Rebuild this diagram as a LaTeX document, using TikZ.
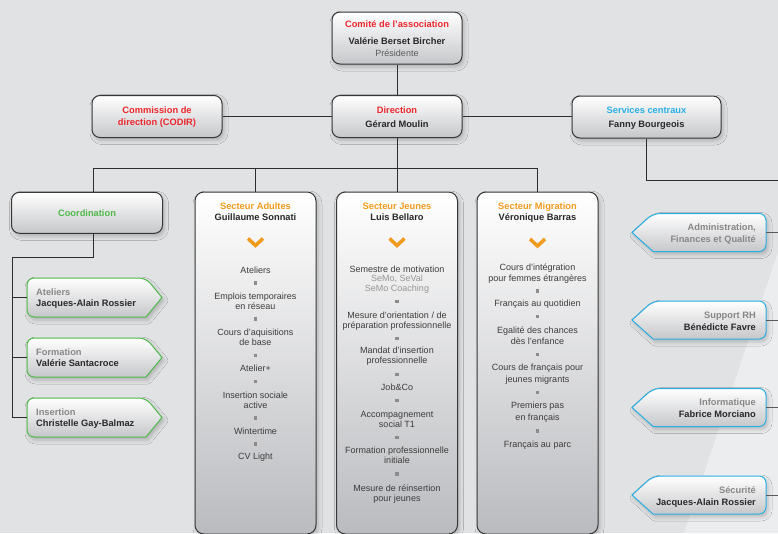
\documentclass[tikz,border=0pt]{standalone}
\usepackage{fontspec}
\setmainfont{Liberation Sans}
\usetikzlibrary{shadows.blur}
\definecolor{bg}{RGB}{225,226,228}
\definecolor{bglight}{RGB}{236,237,238}
\definecolor{redt}{RGB}{237,38,45}
\definecolor{orangt}{RGB}{240,155,30}
\definecolor{greent}{RGB}{80,185,75}
\definecolor{bluet}{RGB}{40,175,230}
\definecolor{darkt}{RGB}{40,40,40}
\definecolor{grayt}{RGB}{135,135,135}
\definecolor{grayp}{RGB}{90,90,90}
\definecolor{itemt}{RGB}{60,60,60}
\definecolor{lgt}{RGB}{150,150,150}
\definecolor{linec}{RGB}{45,45,45}
\definecolor{linegr}{RGB}{90,90,90}
\definecolor{boxb}{RGB}{55,55,55}
\definecolor{gbot}{RGB}{198,199,202}
\definecolor{cbot}{RGB}{186,187,191}
\definecolor{bulc}{RGB}{140,140,140}
\tikzset{
  shad/.style={blur shadow={shadow xshift=2pt, shadow yshift=-3pt, shadow blur radius=4pt, shadow opacity=22}},
  box/.style={draw=boxb, line width=1pt, rounded corners=8pt, top color=white, bottom color=gbot, shad, inner sep=0pt},
  cbox/.style={draw=boxb, line width=1pt, rounded corners=9pt, top color=white, bottom color=cbot, shad, inner sep=0pt, minimum width=121pt, minimum height=342pt},
  gshape/.style={draw=greent, line width=1pt, top color=white, bottom color=gbot, shad},
  bshape/.style={draw=bluet, line width=1pt, top color=white, bottom color=gbot, shad},
  ghost/.style={inner sep=0pt, draw=none},
  hd/.style={anchor=base, inner sep=0pt, font=\bfseries\fontsize{9.3}{11}\selectfont},
  rg/.style={anchor=base, inner sep=0pt, font=\fontsize{9}{11}\selectfont},
  itm/.style={anchor=base, inner sep=0pt, text=itemt, font=\fontsize{9}{11}\selectfont},
  bul/.style={fill=bulc, minimum size=3.2pt, inner sep=0pt, draw=none},
  chev/.style={draw=orangt, line width=3.5pt, line join=miter},
  conn/.style={draw=linec, line width=1pt},
  conng/.style={draw=linegr, line width=1pt}
}
\begin{document}
\begin{tikzpicture}[x=1pt,y=-1pt]
\useasboundingbox (0,0) rectangle (778,533);
\fill[bg] (0,0) rectangle (778,533);
\fill[bglight] (778,252) -- (684,533) -- (778,533) -- cycle;

\coordinate (b1) at (93,168);
\coordinate (b4) at (537.5,168);
\coordinate (sv) at (778,180);
\coordinate (lt) at (12,257);

% top boxes
\node[box, minimum width=130pt, minimum height=52pt] (comite) at (397,38) {};
\node[box, minimum width=130pt, minimum height=42pt] (direction) at (397,116.5) {};
\node[box, minimum width=130pt, minimum height=42pt] (codir) at (157,116.5) {};
\node[box, minimum width=149pt, minimum height=42pt] (services) at (646.5,117) {};
\node[box, minimum width=151pt, minimum height=41pt] (coordn) at (87,212.8) {};

% columns
\node[cbox] (adult) at (255.5,363) {};
\node[cbox] (jeun) at (397,363) {};
\node[cbox] (migr) at (537.5,363) {};

% connectors
\draw[conn] (comite) -- (direction);
\draw[conn] (codir) -- (direction);
\draw[conn] (direction.east) -- (direction.east -| services.west);
\draw[conn] (services.south) |- (sv);
\draw[conn] (direction.south) -- (jeun.north);
\draw[conn] (b1 |- coordn.north) -- (b1) -- (b4) -- (migr.north);
\draw[conn] (adult.north) -- (adult.north |- b1);
\draw[conn] (b1 |- coordn.south) |- (lt);

\node[hd, text=redt] (t1) at (397,27.5) {Comité de l'association};
\node[hd, text=darkt] (t2) at (397,44.2) {Valérie Berset Bircher};
\node[rg, text=grayp] (t3) at (397,56.2) {Présidente};
\node[hd, text=redt] (t4) at (397,113.5) {Direction};
\node[hd, text=darkt] (t5) at (397,127) {Gérard Moulin};
\node[hd, text=redt] (t6) at (157,113.5) {Commission de};
\node[hd, text=redt] (t7) at (157,125.2) {direction (CODIR)};
\node[hd, text=bluet] (t8) at (646.5,113.5) {Services centraux};
\node[hd, text=darkt] (t9) at (646.5,127.5) {Fanny Bourgeois};
\node[hd, text=greent] (t10) at (87,216.3) {Coordination};

\node[hd, text=orangt] (ah) at (255.5,209.5) {Secteur Adultes};
\node[hd, text=darkt] (an) at (255.5,220.8) {Guillaume Sonnati};
\node[hd, text=orangt] (jh) at (397,209.5) {Secteur Jeunes};
\node[hd, text=darkt] (jn) at (397,220.8) {Luis Bellaro};
\node[hd, text=orangt] (mh) at (537.5,209.5) {Secteur Migration};
\node[hd, text=darkt] (mn) at (537.5,220.8) {Véronique Barras};

\draw[chev] (248,238.5) -- (255.5,245.5) -- (263,238.5);
\draw[chev] (389.5,238.5) -- (397,245.5) -- (404.5,238.5);
\draw[chev] (530,239) -- (537.5,246) -- (545,239);

\foreach \y/\t [count=\i] in {270/Ateliers, 296/Emplois temporaires, 306.5/en réseau, 332/{Cours d'aquisitions}, 342.5/de base, 368.5/Atelier+, 395/Insertion sociale, 405.5/active, 431/Wintertime, 456.5/CV Light}
  \node[itm] (ad\i) at (255.5,\y+3.2) {\t};
\foreach \y [count=\i] in {283,319,355.5,381.5,418,444}
  \node[bul] (adb\i) at (255.5,\y) {};

\foreach \y/\t [count=\i] in {269.3/Semestre de motivation, 278.5/{\color{lgt}SeMo, SeVal}, 288.3/{\color{lgt}SeMo Coaching}, 315/{Mesure d'orientation / de}, 325/préparation professionnelle, 350.7/{Mandat d'insertion}, 360.7/professionnelle, 387.3/{Job\&Co}, 414/Accompagnement, 424/social T1, 450.5/Formation professionnelle, 460.5/initiale, 488/Mesure de réinsertion, 498/pour jeunes}
  \node[itm] (je\i) at (397,\y+3.2) {\t};
\foreach \y [count=\i] in {301.7,338.3,374.3,400.5,437.3,474}
  \node[bul] (jeb\i) at (397,\y) {};

\foreach \y/\t [count=\i] in {267/{Cours d'intégration}, 278.3/pour femmes étrangères, 303.5/Français au quotidien, 330.7/Egalité des chances, 341.3/{dès l'enfance}, 367/Cours de français pour, 379/jeunes migrants, 405.7/Premiers pas, 417.3/en français, 444.3/Français au parc}
  \node[itm] (mi\i) at (537.5,\y+3.2) {\t};
\foreach \y [count=\i] in {291,316.7,354.3,392.7,431}
  \node[bul] (mib\i) at (537.5,\y) {};

% left arrow boxes
\foreach \n/\y/\a/\b in {atel/297.5/Ateliers/Jacques-Alain Rossier, form/357.5/Formation/Valérie Santacroce, ins/417.5/Insertion/Christelle Gay-Balmaz}{
  \path[gshape] (146,\y-19.5) -- (162,\y) -- (146,\y+19.5) [rounded corners=7pt] -- (27,\y+19.5) -- (27,\y-19.5) -- cycle;
  \node[ghost, minimum width=135pt, minimum height=39pt] (\n) at (94.5,\y) {};
  \node[hd, text=grayt, anchor=base west] (\n-a) at (36,\y-1.6) {\a};
  \node[hd, text=darkt, anchor=base west] (\n-b) at (36,\y+8.8) {\b};
}
\draw[conn] (lt) -- (lt |- ins.west);
\foreach \n in {atel,form,ins}
  \draw[conn] (lt |- \n.west) -- (\n.west);

% right arrow boxes
\foreach \n/\y/\a/\b in {adm/232.5/{Administration,}/{\color{grayt}Finances et Qualité}, rh/320/Support RH/Bénédicte Favre, info/407.5/Informatique/Fabrice Morciano, secu/495/Sécurité/Jacques-Alain Rossier}{
  \path[bshape] (653,\y-19) -- (632,\y) -- (653,\y+19) [rounded corners=7pt] -- (766,\y+19) -- (766,\y-19) -- cycle;
  \node[ghost, minimum width=134pt, minimum height=38pt] (\n) at (699,\y) {};
  \coordinate (\n-r) at (778,\y);
  \draw[conng] (\n.east) -- (\n-r);
  \node[hd, text=grayt, anchor=base east] (\n-a) at (756,\y-2) {\a};
  \node[hd, text=darkt, anchor=base east] (\n-b) at (756,\y+10) {\b};
}
\end{tikzpicture}
\end{document}
